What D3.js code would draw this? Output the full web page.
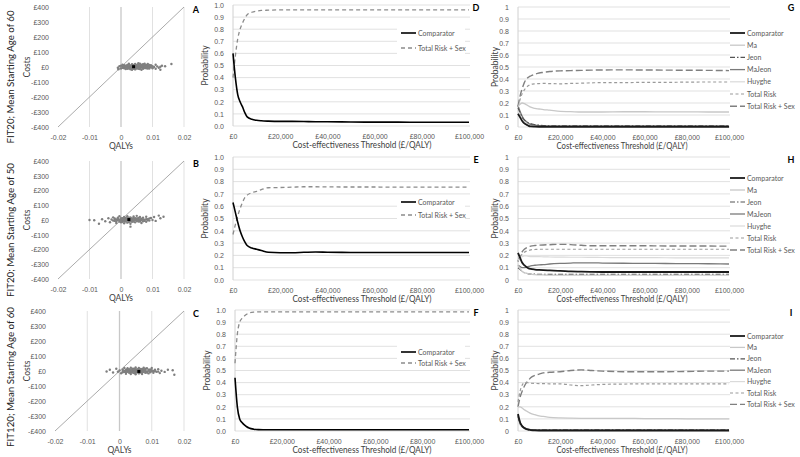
<!DOCTYPE html>
<html><head><meta charset="utf-8">
<script src="https://cdn.jsdelivr.net/npm/d3@7"></script>
<style>body{margin:0;background:#fff}svg{font-family:Lato,"Open Sans",sans-serif}</style>
</head><body><svg id="c" width="800" height="457"></svg>
<script>
// ---------- DATA ----------
const rowLabels = ["FIT20; Mean Starting Age of 60","FIT20; Mean Starting Age of 50","FIT120; Mean Starting Age of 60"];
const panelLetters = [["A","D","G"],["B","E","H"],["C","F","I"]];
const qalyTicks = [-0.02,-0.01,0,0.01,0.02];
const costTicks = [-400,-300,-200,-100,0,100,200,300,400];
const thresholdLine = [[-0.02,-400],[0.02,400]];
const probTicks = [0,0.1,0.2,0.3,0.4,0.5,0.6,0.7,0.8,0.9,1];
const wtpTicks = [0,20000,40000,60000,80000,100000];

const psaA = [[-0.001,-5],[-0.0005,5],[0,-10],[0,8],[0.0005,0],[0.001,-8],[0.001,12],[0.0015,3],[0.002,-12],[0.002,6],[0.0025,15],[0.0025,-3],[0.003,-15],[0.003,10],[0.003,0],[0.0035,18],[0.0035,-8],[0.004,5],[0.004,-12],[0.004,14],[0.0045,-2],[0.0045,20],[0.005,8],[0.005,-10],[0.005,0],[0.0055,15],[0.0055,-6],[0.006,22],[0.006,3],[0.006,-14],[0.0065,10],[0.0065,-4],[0.007,18],[0.007,0],[0.007,-12],[0.0075,8],[0.0075,-7],[0.008,14],[0.008,-2],[0.0085,20],[0.0085,-10],[0.009,5],[0.009,-5],[0.0095,12],[0.01,-8],[0.01,6],[0.0105,0],[0.011,-12],[0.011,15],[0.012,-5],[0.0125,-18],[0.013,8],[0.014,5],[0.016,20],[0.0015,-14],[0.0025,22],[0.0035,-18],[0.0045,-16],[0.0055,25],[0.0065,-18],[0.0075,22],[0.0085,2],[0.002,0],[0.0045,8],[0.0055,-1],[0.0035,4],[-0.0008,-15],[0.0005,15],[0.001,-2],[0.0015,8],[0.002,-6],[0.0025,4],[0.003,-6],[0.005,14],[0.006,-6],[0.007,8],[0.008,6],
  [0.0005,-6],[0.001,4],[0.0015,-4],[0.002,14],[0.0025,-10],[0.003,5],[0.0035,-2],[0.0035,12],[0.004,-5],[0.004,0],[0.0045,-8],[0.0045,14],[0.005,-4],[0.005,4],[0.0055,6],[0.0055,-12],[0.006,10],[0.006,-2],[0.0065,0],[0.0065,16],[0.007,-5],[0.007,4],[0.0075,-1],[0.0075,14],[0.008,-8],[0.008,2],[0.0085,10],[0.009,-10],[0.009,14],[0.0095,0],[0.0115,4],[0.0125,2]];
const psaB = [[-0.01,0],[-0.0085,-2],[-0.007,-25],[-0.006,5],[-0.005,-8],[-0.004,12],[-0.0035,-15],[-0.003,3],[-0.0025,18],[-0.002,-6],[-0.002,10],[-0.0015,-20],[-0.001,0],[-0.001,15],[-0.0005,-10],[-0.0005,25],[0,5],[0,-15],[0.0005,12],[0.0005,-5],[0.001,20],[0.001,-22],[0.001,2],[0.0015,-10],[0.0015,14],[0.002,-2],[0.002,25],[0.002,-18],[0.0025,8],[0.0025,-8],[0.003,18],[0.003,0],[0.003,-25],[0.0035,10],[0.0035,-12],[0.004,24],[0.004,-4],[0.0045,12],[0.0045,-16],[0.005,2],[0.005,28],[0.0055,-10],[0.0055,14],[0.006,-2],[0.006,20],[0.0065,-20],[0.0065,8],[0.007,-8],[0.007,16],[0.0075,2],[0.008,-12],[0.008,22],[0.0085,6],[0.009,-4],[0.0095,14],[0.01,0],[0.0105,20],[0.011,-6],[0.012,30],[0.0125,12],[0.0135,22],[0.003,-45],[0.0005,-2],[0.0015,4],[0.0025,-1],[0.0035,3],[0.0045,-1],[-0.0015,4],[0.001,8],[0.004,6],[0.002,12],[0.0055,0],
  [-0.0025,-4],[-0.002,2],[-0.0015,-8],[-0.001,8],[-0.0005,2],[0,-5],[0,12],[0.0005,-12],[0.001,-6],[0.0015,-2],[0.002,5],[0.0025,-14],[0.0025,16],[0.003,-8],[0.003,8],[0.0035,-4],[0.004,-10],[0.004,14],[0.0045,4],[0.005,-6],[0.005,10],[0.0055,6],[0.006,-10],[0.006,6],[0.0065,0],[0.007,4],[0.0075,-6],[0.008,6],[0.0085,-2],[0.009,10]];
const psaC = [[-0.004,-3],[-0.003,8],[-0.002,-10],[-0.001,15],[-0.0005,-5],[0,3],[0.0005,-15],[0.001,10],[0.001,-8],[0.0015,20],[0.0015,0],[0.002,-18],[0.002,8],[0.0025,-5],[0.0025,18],[0.003,2],[0.003,-12],[0.0035,22],[0.0035,-20],[0.004,10],[0.004,-4],[0.0045,-14],[0.0045,16],[0.005,4],[0.005,-22],[0.005,24],[0.0055,-8],[0.0055,12],[0.006,0],[0.006,-16],[0.006,20],[0.0065,6],[0.0065,-10],[0.007,14],[0.007,-2],[0.007,-20],[0.0075,22],[0.0075,4],[0.008,-12],[0.008,10],[0.0085,-4],[0.0085,18],[0.009,2],[0.009,-16],[0.0095,10],[0.0095,-8],[0.01,20],[0.01,-2],[0.0105,-12],[0.011,8],[0.0115,-5],[0.012,12],[0.0125,-14],[0.013,2],[0.014,-6],[0.015,8],[0.017,-25],[0.0165,5],[0.002,0],[0.003,6],[0.004,2],[0.005,-6],[0.006,8],[0.007,4],[0.008,-2],[0.0045,0],[0.0055,2],[0.0065,-4],[0.0035,-6],[0.0025,4],
  [0.001,0],[0.0015,-6],[0.002,-8],[0.0025,10],[0.003,12],[0.003,-4],[0.0035,6],[0.004,-10],[0.004,16],[0.0045,6],[0.005,12],[0.005,-12],[0.0055,-2],[0.006,-8],[0.006,4],[0.0065,14],[0.007,-10],[0.0075,-6],[0.0075,10],[0.008,4],[0.008,16],[0.0085,-10],[0.009,8],[0.0095,-2],[0.01,6],[0.0105,0],[0.011,-2],[0.012,-4]];
const psaMeans = [[0.004,2],[0.0025,3],[0.006,-3]];

const wtp = [0,1000,2000,3000,4000,5000,6000,8000,10000,12000,15000,20000,25000,30000,35000,40000,50000,60000,70000,80000,90000,100000];

// two-strategy CEACs (middle column)
const twoNames = ["Comparator","Total Risk + Sex"];
const compA = [0.60,0.40,0.26,0.20,0.16,0.11,0.075,0.055,0.047,0.043,0.04,0.038,0.038,0.037,0.035,0.035,0.033,0.032,0.032,0.031,0.031,0.031];
const trsA  = [0.40,0.58,0.72,0.80,0.85,0.89,0.92,0.94,0.95,0.955,0.957,0.96,0.96,0.96,0.96,0.96,0.96,0.96,0.96,0.96,0.96,0.96];
const compB = [0.63,0.55,0.47,0.40,0.35,0.31,0.28,0.26,0.25,0.24,0.225,0.222,0.222,0.225,0.228,0.226,0.224,0.223,0.223,0.223,0.223,0.223];
const trsB  = [0.37,0.45,0.52,0.58,0.63,0.67,0.69,0.71,0.72,0.735,0.75,0.752,0.755,0.758,0.758,0.757,0.756,0.756,0.755,0.755,0.755,0.755];
const compC = [0.44,0.20,0.10,0.07,0.05,0.035,0.025,0.015,0.011,0.01,0.01,0.01,0.01,0.01,0.01,0.01,0.01,0.01,0.01,0.01,0.01,0.01];
const trsC  = [0.56,0.80,0.90,0.93,0.95,0.965,0.975,0.983,0.985,0.985,0.985,0.985,0.985,0.985,0.985,0.985,0.985,0.985,0.985,0.985,0.985,0.985];

// seven-strategy CEACs (right column)
const sevenNames = ["Comparator","Ma","Jeon","MaJeon","Huyghe","Total Risk","Total Risk + Sex"];
const D_comp  = [0.11,0.08,0.05,0.03,0.02,0.01,0.005,0.003,0.002,0.002,0.002,0.002,0.002,0.002,0.002,0.002,0.002,0.002,0.002,0.002,0.002,0.002];
const D_ma    = [0.17,0.19,0.20,0.195,0.185,0.175,0.165,0.155,0.15,0.145,0.14,0.13,0.128,0.125,0.125,0.125,0.127,0.127,0.126,0.126,0.125,0.125];
const D_jeon  = [0.16,0.12,0.08,0.06,0.045,0.035,0.028,0.02,0.015,0.012,0.01,0.01,0.01,0.01,0.01,0.01,0.01,0.01,0.01,0.01,0.01,0.01];
const D_majeon= [0.18,0.13,0.09,0.06,0.045,0.03,0.022,0.015,0.012,0.01,0.008,0.008,0.008,0.008,0.008,0.008,0.008,0.008,0.008,0.008,0.008,0.008];
const D_huy   = [0.14,0.10,0.07,0.05,0.035,0.025,0.02,0.015,0.012,0.01,0.01,0.01,0.01,0.01,0.01,0.01,0.01,0.01,0.01,0.01,0.01,0.01];
const D_tr    = [0.17,0.23,0.28,0.31,0.33,0.345,0.355,0.36,0.362,0.363,0.362,0.36,0.363,0.365,0.368,0.37,0.37,0.372,0.372,0.374,0.375,0.375];
const D_trs   = [0.17,0.26,0.32,0.37,0.40,0.415,0.425,0.44,0.45,0.455,0.462,0.468,0.47,0.472,0.474,0.475,0.476,0.475,0.474,0.473,0.472,0.47];

const E_comp  = [0.22,0.18,0.14,0.12,0.105,0.095,0.09,0.085,0.082,0.08,0.078,0.075,0.07,0.068,0.066,0.065,0.065,0.065,0.065,0.065,0.065,0.065];
const E_ma    = [0.12,0.09,0.07,0.06,0.055,0.05,0.047,0.044,0.042,0.041,0.04,0.04,0.04,0.04,0.04,0.04,0.04,0.04,0.04,0.04,0.04,0.04];
const E_jeon  = [0.10,0.085,0.07,0.06,0.055,0.05,0.048,0.047,0.046,0.045,0.045,0.045,0.045,0.045,0.045,0.045,0.045,0.045,0.045,0.045,0.045,0.045];
const E_majeon= [0.12,0.11,0.10,0.10,0.105,0.11,0.115,0.12,0.123,0.125,0.13,0.135,0.138,0.14,0.14,0.138,0.136,0.135,0.134,0.133,0.132,0.13];
const E_huy   = [0.16,0.18,0.19,0.195,0.195,0.192,0.19,0.19,0.19,0.188,0.187,0.186,0.185,0.185,0.184,0.183,0.182,0.182,0.181,0.18,0.18,0.18];
const E_tr    = [0.15,0.19,0.21,0.225,0.235,0.24,0.245,0.248,0.25,0.25,0.25,0.25,0.25,0.25,0.25,0.25,0.25,0.25,0.25,0.25,0.25,0.25];
const E_trs   = [0.15,0.20,0.23,0.25,0.262,0.27,0.275,0.28,0.283,0.285,0.287,0.29,0.288,0.282,0.278,0.278,0.278,0.278,0.277,0.276,0.276,0.275];

const F_comp  = [0.14,0.07,0.04,0.025,0.015,0.01,0.008,0.005,0.004,0.004,0.004,0.004,0.004,0.004,0.004,0.004,0.004,0.004,0.004,0.004,0.004,0.004];
const F_ma    = [0.20,0.20,0.19,0.175,0.165,0.155,0.145,0.135,0.125,0.12,0.113,0.108,0.106,0.105,0.105,0.104,0.104,0.103,0.102,0.101,0.10,0.10];
const F_jeon  = [0.12,0.06,0.035,0.025,0.018,0.014,0.012,0.01,0.01,0.01,0.01,0.01,0.01,0.01,0.01,0.01,0.01,0.01,0.01,0.01,0.01,0.01];
const F_majeon= [0.13,0.07,0.04,0.028,0.02,0.015,0.012,0.01,0.008,0.008,0.008,0.008,0.008,0.008,0.008,0.008,0.008,0.008,0.008,0.008,0.008,0.008];
const F_huy   = [0.10,0.05,0.03,0.02,0.015,0.012,0.01,0.008,0.008,0.008,0.008,0.008,0.008,0.008,0.008,0.008,0.008,0.008,0.008,0.008,0.008,0.008];
const F_tr    = [0.24,0.33,0.38,0.40,0.40,0.398,0.395,0.393,0.392,0.392,0.39,0.39,0.38,0.375,0.38,0.385,0.388,0.39,0.39,0.39,0.39,0.39];
const F_trs   = [0.20,0.28,0.33,0.37,0.40,0.42,0.44,0.46,0.47,0.48,0.485,0.49,0.50,0.505,0.50,0.495,0.49,0.49,0.49,0.492,0.495,0.495];

// ---------- STYLES / LAYOUT ----------
const twoStyles = [
  {stroke:"#000", width:1.6, dash:null},
  {stroke:"#8c8c8c", width:1.3, dash:"4,3"}
];
const sevenStyles = [
  {stroke:"#1a1a1a", width:1.8, dash:null},
  {stroke:"#c8c8c8", width:1.3, dash:null},
  {stroke:"#555", width:1.2, dash:"5,2,1.5,2"},
  {stroke:"#7a7a7a", width:1.3, dash:null},
  {stroke:"#dadada", width:1.2, dash:null},
  {stroke:"#9a9a9a", width:1.2, dash:"3,2.5"},
  {stroke:"#808080", width:1.4, dash:"7,3"}
];
const rows = [
  {sc:[58,184,7,127], mid:[233,469,5,126], rt:[518,729,7,127], labY:77, labLen:133, midLeg:[33,48], rtLeg:[33,12.2]},
  {sc:[58,184,161,279], mid:[233,469,157,280], rt:[518,729,157,280], labY:230, labLen:134, midLeg:[202,215], rtLeg:[178,12]},
  {sc:[55,184,311,431], mid:[235,469,310,431], rt:[518,729,310,431], labY:377, labLen:140, midLeg:[352,363], rtLeg:[336,11.4]}
];
const psa = [psaA, psaB, psaC];
const twoData = [[compA,trsA],[compB,trsB],[compC,trsC]];
const sevenData = [
  [D_comp,D_ma,D_jeon,D_majeon,D_huy,D_tr,D_trs],
  [E_comp,E_ma,E_jeon,E_majeon,E_huy,E_tr,E_trs],
  [F_comp,F_ma,F_jeon,F_majeon,F_huy,F_tr,F_trs]
];

const svg = d3.select("#c");
const tickCol = "#595959", gridCol = "#d9d9d9", titleCol = "#404040";
const fmtGBP = d => (d<0?"-":"") + "£" + d3.format(",")(Math.abs(d));
const fmtQ = d => d===0 ? "0" : String(+d.toFixed(2));

function styleAxis(g){
  g.select(".domain").remove();
  g.selectAll("line").remove();
  g.selectAll("text").attr("fill",tickCol).style("font-size","7px");
}

rows.forEach((r,i)=>{
  svg.append("text").attr("transform",`translate(14,${r.labY}) rotate(-90)`)
    .attr("text-anchor","middle").style("font-size","10px").attr("fill","#222")
    .attr("textLength",r.labLen).attr("lengthAdjust","spacingAndGlyphs").text(rowLabels[i]);

  const [sx0,sx1,sy0,sy1] = r.sc;
  const x = d3.scaleLinear().domain([-0.02,0.02]).range([sx0,sx1]);
  const y = d3.scaleLinear().domain([-400,400]).range([sy1,sy0]);
  const g = svg.append("g");
  g.selectAll(".vg").data(qalyTicks.filter(t=>t!==0 && t!==-0.02)).join("line")
    .attr("x1",d=>x(d)).attr("x2",d=>x(d)).attr("y1",sy0).attr("y2",sy1).attr("stroke",gridCol).attr("stroke-width",0.8);
  g.append("line").attr("x1",x(0)).attr("x2",x(0)).attr("y1",sy0).attr("y2",sy1).attr("stroke","#c8c8c8").attr("stroke-width",1.3);
  g.append("path").datum(thresholdLine).attr("d",d3.line().x(d=>x(d[0])).y(d=>y(d[1])))
    .attr("stroke","#a0a0a0").attr("stroke-width",0.9).attr("fill","none");
  g.append("g").attr("transform",`translate(${sx0-6},0)`).call(d3.axisLeft(y).tickValues(costTicks).tickFormat(fmtGBP).tickSize(0)).call(styleAxis);
  g.append("g").attr("transform",`translate(0,${sy1+5})`).call(d3.axisBottom(x).tickValues(qalyTicks).tickFormat(fmtQ).tickSize(0)).call(styleAxis);
  g.selectAll(".pt").data(psa[i]).join("circle").attr("cx",d=>x(d[0])).attr("cy",d=>y(d[1])).attr("r",1.2).attr("fill","#7f7f7f");
  g.append("rect").attr("x",x(psaMeans[i][0])-1.5).attr("y",y(psaMeans[i][1])-1.5).attr("width",3).attr("height",3).attr("fill","#000");
  g.append("text").attr("x",x(0)).attr("y",sy1+22).attr("text-anchor","middle").style("font-size","8.5px").attr("fill",titleCol).text("QALYs");
  g.append("text").attr("transform",`translate(30,${(sy0+sy1)/2}) rotate(-90)`).attr("text-anchor","middle").style("font-size","8.5px").attr("fill",titleCol).text("Costs");

  drawCEAC(r.mid, twoData[i], twoStyles, ".1f", i, "mid");
  drawCEAC(r.rt, sevenData[i], sevenStyles, "plain", i, "rt");

  [196,476,791].forEach((lx,k)=>{
    svg.append("text").attr("x",lx).attr("y",(k===0? r.sc[2]+6 : r.mid[2]+6)).attr("text-anchor","middle")
      .style("font-size","9px").style("font-weight","bold").attr("fill","#000").text(panelLetters[i][k]);
  });
});

function drawCEAC(box, series, styles, fmt, i, kind){
  const [x0,x1,y0,y1] = box;
  const x = d3.scaleLinear().domain([0,100000]).range([x0,x1]);
  const y = d3.scaleLinear().domain([0,1]).range([y1,y0]);
  const g = svg.append("g");
  g.selectAll(".hg").data(probTicks).join("line")
    .attr("x1",x0).attr("x2",x1+1).attr("y1",d=>y(d)).attr("y2",d=>y(d)).attr("stroke",gridCol).attr("stroke-width",0.8);
  g.append("line").attr("x1",x0).attr("x2",x0).attr("y1",y0).attr("y2",y1).attr("stroke","#d0d0d0").attr("stroke-width",1);
  const tf = fmt===".1f" ? d3.format(".1f") : (d => String(d));
  g.append("g").attr("transform",`translate(${x0-6},0)`).call(d3.axisLeft(y).tickValues(probTicks).tickFormat(tf).tickSize(0)).call(styleAxis);
  g.append("g").attr("transform",`translate(0,${y1+5})`).call(d3.axisBottom(x).tickValues(wtpTicks).tickFormat(d=>"£"+d3.format(",")(d)).tickSize(0)).call(styleAxis);
  g.append("text").attr("transform",`translate(${x0-(kind==="mid"?25:20)},${(y0+y1)/2}) rotate(-90)`).attr("text-anchor","middle")
    .style("font-size","8.5px").attr("fill",titleCol).text("Probability");
  g.append("text").attr("x",kind==="mid"?362:622).attr("y",y1+22).attr("text-anchor","middle").style("font-size","8.5px").attr("fill",titleCol)
    .attr("textLength",kind==="mid"?139:131).attr("lengthAdjust","spacingAndGlyphs")
    .text("Cost-effectiveness Threshold (£/QALY)");
  const line = d3.line().x((d,k)=>x(wtp[k])).y(d=>y(d)).curve(d3.curveMonotoneX);
  series.map((s,k)=>k).reverse().forEach(k=>{
    const st = styles[k];
    g.append("path").datum(series[k]).attr("d",line).attr("fill","none").attr("stroke",st.stroke)
      .attr("stroke-width",st.width).attr("stroke-dasharray",st.dash);
  });
  const r = rows[i];
  const names = kind==="mid" ? twoNames : sevenNames;
  names.forEach((n,k)=>{
    let ly, lx;
    if(kind==="mid"){ ly = r.midLeg[k]; lx = 401; }
    else { ly = r.rtLeg[0] + k*r.rtLeg[1]; lx = 730; }
    if(kind==="mid" && k===0){
      g.append("rect").attr("x",lx-4).attr("y",ly-7).attr("width",68).attr("height",r.midLeg[1]-r.midLeg[0]+14).attr("fill","#fff");
    }
    const st = styles[k];
    g.append("line").attr("x1",lx).attr("x2",lx+15).attr("y1",ly).attr("y2",ly).attr("stroke",st.stroke)
      .attr("stroke-width",st.width).attr("stroke-dasharray",st.dash);
    g.append("text").attr("x",lx+17).attr("y",ly+2.5).style("font-size","7px").attr("fill",tickCol).text(n);
  });
}
</script></body></html>
